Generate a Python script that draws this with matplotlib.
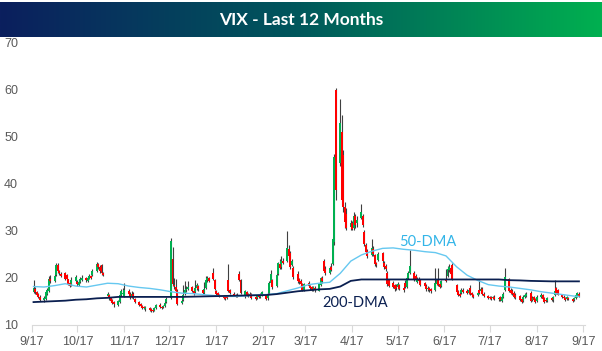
import matplotlib
matplotlib.use('Agg')
import numpy as np
import pandas as pd
import matplotlib.pyplot as plt
from matplotlib.colors import LinearSegmentedColormap

# daily VIX candles, month blocks from the 17th to the 16th
opens = [
    17.0, 17.6, 16.9, 16.6, 15.9, 15.3, 15.5, 16.6, 17.2, 19.6, 19.3, 20.5, 22.6, 21.3, 20.8, 20.9, 20.6, 19.6, 18.8, 18.4, 19.2,
    19.0, 18.5, 19.0, 19.5, 19.9, 19.3, 19.8, 20.3, 20.6, 21.3, 22.8, 22.3, 22.6, 20.9, 16.1, 16.4, 15.6, 15.2, 14.8, 14.2, 14.9, 16.3, 16.5,
    16.0, 17.2, 16.6, 15.8, 16.6, 15.4, 14.8, 14.3, 14.0, 13.7, 13.3, 13.6, 13.3, 13.2, 13.0, 13.6, 14.2, 13.8, 13.7, 14.0, 14.8,
    15.6, 24.0, 18.5, 18.0, 17.2, 14.6, 15.2, 16.5, 17.4, 17.6, 17.9, 17.2, 17.0, 17.7, 18.2, 17.4, 16.8, 17.8, 19.4, 20.0, 21.0, 19.5,
    17.2, 16.8, 16.3, 16.1, 15.8, 16.0, 19.4, 17.3, 16.6, 16.3, 16.0, 20.8, 19.4, 16.4, 17.0, 16.6, 16.2, 16.5, 15.8, 15.6, 16.2, 15.8, 16.3,
    16.4, 15.6, 16.8, 18.8, 19.5, 18.2, 20.8, 22.8, 22.2, 23.6, 23.6, 26.0, 25.2, 22.6, 22.0, 20.8, 19.6, 19.2, 18.6, 17.4,
    18.8, 18.2, 17.9, 17.5, 17.8, 17.2, 18.4, 20.0, 23.6, 21.8, 21.0, 22.2, 22.8, 27.5, 59.8, 44.4, 51.0, 46.0, 35.0, 33.4, 30.8, 31.5,
    30.6, 33.0, 31.5, 32.6, 33.0, 29.6, 27.0, 25.6, 24.8, 26.0, 24.8, 23.0, 23.8, 25.2, 23.2, 22.4, 21.0, 19.4, 18.8, 18.4, 18.3, 17.9,
    18.4, 17.8, 18.8, 18.0, 20.0, 21.0, 21.0, 20.4, 19.1, 19.8, 19.6, 18.8, 18.3, 17.6, 17.8, 17.6, 17.3, 18.6, 19.6, 18.6, 18.2,
    19.8, 20.4, 21.6, 22.0, 22.6, 18.4, 17.2, 16.6, 16.8, 17.4, 17.2, 16.8, 17.8, 16.8, 16.4, 16.2, 17.4, 17.2, 17.6, 16.6, 16.0, 15.8,
    15.8, 15.6, 15.9, 15.4, 15.9, 15.1, 15.9, 17.4, 19.6, 17.4, 17.2, 16.8, 16.4, 16.0, 15.4, 15.1, 15.9, 16.1, 16.8, 15.2, 15.8, 15.4, 15.0,
    15.8, 16.2, 15.6, 15.2, 15.0, 15.6, 15.2, 16.2, 17.8, 17.3, 16.4, 15.9, 15.6, 15.4, 15.7, 15.4, 15.2, 15.6, 16.0, 16.6,
]
highs = [
    19.4, 18.0, 17.2, 16.8, 16.2, 16.0, 17.2, 17.7, 20.4, 20.5, 20.8, 23.2, 23.0, 21.6, 21.1, 21.2, 20.8, 19.8, 19.1, 20.1, 20.6,
    19.4, 19.6, 20.2, 20.6, 20.2, 20.3, 20.8, 20.6, 21.8, 23.4, 23.1, 22.6, 22.9, 21.2, 17.0, 16.6, 15.9, 15.5, 15.1, 15.3, 16.9, 17.6, 17.8,
    18.8, 17.6, 17.0, 17.2, 16.9, 15.6, 15.0, 14.5, 14.2, 14.0, 13.9, 13.8, 13.5, 13.4, 13.8, 14.4, 14.5, 14.0, 14.1, 15.0, 15.8,
    28.4, 26.5, 20.0, 19.8, 17.5, 15.4, 18.5, 19.3, 18.2, 19.3, 18.3, 17.5, 19.5, 18.8, 18.5, 17.6, 19.0, 20.3, 20.3, 20.2, 22.0, 19.8,
    17.4, 17.0, 16.5, 16.3, 16.0, 16.2, 22.8, 17.6, 16.9, 16.6, 16.7, 21.3, 19.6, 17.3, 17.2, 16.8, 16.9, 16.7, 16.0, 16.4, 16.5, 16.7, 17.2,
    16.6, 16.9, 19.2, 21.6, 19.8, 21.0, 23.4, 24.0, 24.5, 24.2, 29.8, 27.0, 25.6, 24.0, 22.4, 21.4, 20.0, 19.6, 18.9, 18.9,
    19.2, 18.5, 18.2, 18.3, 18.2, 18.9, 20.2, 20.4, 24.0, 22.4, 22.4, 23.0, 28.6, 46.2, 60.3, 57.8, 54.5, 47.0, 36.0, 34.8, 32.2, 32.0,
    34.0, 33.6, 33.0, 35.7, 33.4, 30.0, 27.4, 26.0, 28.2, 26.6, 25.0, 23.4, 25.4, 25.5, 23.5, 22.8, 21.3, 19.8, 19.2, 18.6, 18.6, 19.0,
    18.7, 18.2, 19.5, 20.3, 21.3, 25.9, 21.4, 20.8, 20.2, 20.2, 19.8, 19.1, 18.6, 18.3, 18.1, 17.8, 22.0, 19.8, 22.0, 19.0, 19.5,
    21.8, 22.4, 22.8, 22.4, 23.0, 18.6, 17.4, 16.9, 17.8, 17.7, 17.6, 17.8, 18.4, 17.0, 16.6, 17.2, 19.5, 18.0, 17.9, 16.9, 16.2, 16.0,
    16.1, 16.1, 16.2, 15.9, 16.1, 16.3, 17.0, 22.0, 19.9, 17.8, 17.6, 17.1, 16.7, 16.3, 15.6, 16.2, 16.8, 16.9, 17.2, 16.0, 16.1, 15.7, 16.2,
    16.8, 16.5, 15.9, 15.5, 15.9, 15.8, 16.0, 19.5, 18.0, 17.6, 16.6, 16.2, 15.8, 16.0, 15.9, 15.6, 15.8, 16.5, 17.0, 16.9,
]
lows = [
    16.8, 16.6, 16.0, 15.6, 15.0, 14.9, 15.3, 16.4, 17.0, 18.9, 19.0, 20.3, 21.0, 20.6, 20.2, 19.5, 19.4, 18.4, 18.1, 18.2, 19.0,
    18.3, 18.2, 18.8, 19.2, 19.1, 19.0, 19.6, 19.7, 20.4, 21.1, 21.9, 21.0, 20.6, 20.3, 15.8, 15.3, 14.9, 14.3, 13.8, 14.0, 14.7, 16.0, 16.2,
    15.8, 16.2, 15.5, 15.6, 15.4, 14.5, 14.0, 13.8, 13.4, 13.3, 13.0, 13.0, 12.8, 12.6, 12.9, 13.4, 13.5, 13.3, 13.5, 13.8, 14.6,
    15.4, 18.2, 17.6, 16.8, 14.2, 14.3, 15.0, 16.3, 17.0, 17.3, 16.9, 16.3, 16.8, 17.3, 17.2, 16.5, 16.6, 17.6, 19.0, 19.0, 19.5, 17.3,
    16.2, 16.1, 15.8, 15.5, 15.3, 15.4, 16.9, 16.5, 16.0, 15.8, 15.8, 19.2, 16.5, 15.6, 16.0, 15.8, 15.9, 15.5, 15.2, 15.4, 15.6, 15.6, 16.1,
    15.2, 15.2, 16.6, 18.6, 17.6, 18.0, 20.5, 21.8, 21.9, 22.8, 23.4, 24.2, 21.9, 22.4, 19.8, 18.9, 18.7, 18.3, 17.2, 17.1,
    17.9, 17.4, 17.1, 17.2, 17.0, 17.1, 18.2, 18.9, 21.1, 20.6, 20.8, 21.3, 22.6, 27.0, 36.5, 43.6, 35.5, 34.0, 30.5, 30.0, 30.2, 30.0,
    30.2, 30.6, 30.8, 32.4, 30.8, 26.8, 25.0, 24.2, 24.5, 24.6, 22.4, 22.2, 23.5, 23.2, 21.8, 21.5, 18.2, 17.9, 17.8, 17.2, 17.4, 17.6,
    17.3, 17.0, 17.8, 17.8, 19.8, 20.8, 19.3, 19.2, 18.9, 19.0, 18.2, 17.9, 17.2, 17.2, 17.0, 16.8, 17.1, 18.4, 18.2, 17.8, 17.9,
    19.0, 20.2, 21.2, 20.5, 19.4, 16.8, 16.1, 15.8, 16.6, 16.8, 16.5, 16.6, 16.3, 15.9, 15.7, 16.0, 16.5, 17.0, 16.4, 15.8, 15.5, 15.4,
    15.3, 15.4, 15.2, 15.1, 15.0, 14.8, 15.6, 17.2, 17.0, 16.6, 16.4, 15.6, 15.5, 15.0, 14.7, 14.9, 15.7, 15.9, 14.8, 15.0, 15.1, 14.7, 14.8,
    15.6, 15.3, 14.7, 14.8, 14.8, 15.0, 14.9, 16.0, 16.6, 16.2, 15.6, 15.4, 15.1, 15.2, 15.2, 14.9, 15.0, 15.4, 15.8, 15.9,
]
closes = [
    17.8, 16.9, 16.3, 15.8, 15.3, 15.6, 16.9, 17.3, 19.6, 19.2, 20.4, 22.6, 21.4, 20.9, 20.4, 19.8, 19.6, 18.6, 18.3, 19.4, 20.2,
    18.6, 19.1, 19.6, 19.9, 19.4, 19.9, 20.4, 20.0, 21.4, 22.9, 22.2, 21.3, 20.9, 20.6, 16.6, 15.6, 15.1, 14.6, 14.3, 15.0, 16.3, 17.1, 16.8,
    17.3, 16.5, 15.8, 16.6, 15.6, 14.8, 14.2, 14.0, 13.6, 13.5, 13.7, 13.2, 13.0, 12.9, 13.6, 14.2, 13.8, 13.6, 13.9, 14.7, 15.5,
    27.8, 18.6, 18.2, 17.2, 14.4, 15.1, 16.2, 17.3, 17.6, 18.1, 17.2, 16.6, 17.7, 18.4, 17.6, 16.8, 17.6, 19.5, 19.9, 19.3, 19.8, 17.6,
    16.6, 16.3, 16.0, 15.7, 15.5, 15.6, 17.2, 16.8, 16.2, 16.0, 16.4, 19.5, 16.8, 17.1, 16.2, 16.0, 16.6, 15.7, 15.4, 16.0, 15.8, 16.4, 16.9,
    15.5, 16.6, 18.8, 20.8, 18.0, 20.6, 23.0, 22.0, 23.6, 23.2, 26.2, 24.6, 22.2, 23.6, 20.2, 19.2, 19.0, 18.6, 17.4, 18.7,
    18.2, 17.8, 17.4, 17.9, 17.3, 18.6, 19.9, 19.2, 21.4, 21.0, 22.0, 21.6, 28.2, 45.6, 38.6, 52.8, 36.5, 35.0, 31.8, 30.6, 31.6, 30.4,
    33.0, 31.2, 32.2, 34.0, 31.2, 27.2, 25.4, 24.6, 26.2, 25.0, 22.8, 22.6, 25.0, 23.6, 22.2, 21.8, 18.6, 18.2, 18.0, 17.6, 17.8, 18.6,
    17.6, 17.4, 18.0, 20.0, 21.0, 22.4, 19.6, 19.4, 19.8, 19.2, 18.4, 18.2, 17.5, 17.8, 17.3, 17.1, 18.8, 19.4, 18.4, 18.0, 19.2,
    19.2, 21.8, 22.2, 20.8, 19.6, 17.0, 16.4, 16.0, 17.4, 17.0, 16.8, 17.4, 16.6, 16.2, 15.9, 16.8, 16.8, 17.6, 16.6, 16.0, 15.7, 15.6,
    15.5, 15.8, 15.4, 15.6, 15.2, 15.9, 16.6, 20.2, 17.2, 16.8, 16.6, 15.8, 15.7, 15.2, 14.9, 15.8, 16.4, 16.6, 15.0, 15.7, 15.3, 14.9, 15.9,
    16.4, 15.5, 14.9, 15.0, 15.6, 15.2, 15.8, 17.2, 16.8, 16.4, 15.8, 15.6, 15.3, 15.8, 15.4, 15.1, 15.6, 16.2, 16.7, 16.1,
]

# moving averages, one reading every 5 trading days (last one on the final day)
dma50 = [18.1, 18.0, 18.3, 18.7, 18.2, 18.0, 18.4, 18.8, 18.7, 18.2, 17.9, 17.7, 17.4, 17.0,
         16.7, 16.6, 16.4, 16.2, 16.0, 16.0, 16.1, 16.3, 16.4, 16.6, 17.2, 17.8, 18.5, 18.8,
         19.0, 20.9, 23.5, 24.8, 25.6, 26.2, 26.3, 26.0, 25.8, 25.5, 25.3, 24.6, 22.3, 20.5,
         19.4, 18.5, 18.2, 18.0, 17.7, 17.4, 17.0, 16.7, 16.4, 16.1, 16.0]
dma200 = [14.8, 14.9, 15.0, 15.1, 15.3, 15.4, 15.6, 15.7, 15.9, 15.9, 15.9, 15.9, 15.9, 15.9,
          15.9, 15.95, 16.0, 16.05, 16.1, 16.15, 16.2, 16.25, 16.3, 16.5, 16.8, 17.1, 17.3, 17.5,
          17.6, 18.1, 19.3, 19.6, 19.6, 19.6, 19.6, 19.6, 19.6, 19.6, 19.6, 19.6, 19.6, 19.6,
          19.6, 19.6, 19.6, 19.45, 19.4, 19.3, 19.25, 19.2, 19.2, 19.2, 19.2]

tick_dates = ['2017-09-17', '2017-10-17', '2017-11-17', '2017-12-17', '2018-01-17', '2018-02-17',
              '2018-03-17', '2018-04-17', '2018-05-17', '2018-06-17', '2018-07-17', '2018-08-17', '2018-09-17']
tick_labels = ['9/17', '10/17', '11/17', '12/17', '1/17', '2/17', '3/17', '4/17',
               '5/17', '6/17', '7/17', '8/17', '9/17']

dates = pd.bdate_range('2017-09-18', periods=len(closes))
o = np.array(opens); h = np.array(highs); l = np.array(lows); c = np.array(closes)
dma_idx = list(range(0, len(closes), 5)) + [len(closes) - 1]

fig = plt.figure(figsize=(6.02, 3.51), dpi=100)

# title bar with the blue->green gradient
tax = fig.add_axes([0, 1 - 37 / 351, 1, 35 / 351])
cmap = LinearSegmentedColormap.from_list('bar', ['#0b1f5e', '#00585c', '#00b050'])
tax.imshow(np.linspace(0, 1, 256)[None, :], aspect='auto', cmap=cmap, extent=[0, 1, 0, 1])
tax.set_axis_off()
tax.text(0.5, 0.48, 'VIX - Last 12 Months', color='white', fontsize=12.5, fontweight='bold',
         family='Lato', ha='center', va='center')

ax = fig.add_axes([32 / 602, 26.3 / 351, 553 / 602, 282.7 / 351])
up = c >= o
body_bottom = np.minimum(o, c)
body_height = np.maximum(np.abs(c - o), 0.15)
ax.vlines(dates, l, h, color='#404040', lw=0.8, zorder=2)
ax.bar(dates[up], body_height[up], bottom=body_bottom[up], width=1.3, color='#00b050', zorder=3)
ax.bar(dates[~up], body_height[~up], bottom=body_bottom[~up], width=1.3, color='#ff0000', zorder=3)

ax.plot(dates[dma_idx], dma50, color='#66c8f0', lw=1.0, zorder=4)
ax.plot(dates[dma_idx], dma200, color='#0a1f50', lw=1.3, zorder=4)

ax.text(pd.Timestamp('2018-05-18'), 27.6, '50-DMA', color='#33b5e8', fontsize=10.5,
        family='Lato', ha='left', va='center')
ax.text(pd.Timestamp('2018-03-28'), 14.6, '200-DMA', color='#0a1f50', fontsize=10.5,
        family='Lato', ha='left', va='center')

ax.set_ylim(10, 70)
ax.set_yticks([10, 20, 30, 40, 50, 60, 70])
ax.set_xlim(pd.Timestamp(tick_dates[0]), pd.Timestamp(tick_dates[-1]) + pd.Timedelta(days=1))
ax.set_xticks(pd.to_datetime(tick_dates))
ax.set_xticklabels(tick_labels)
for s in ['top', 'right', 'left']:
    ax.spines[s].set_visible(False)
ax.spines['bottom'].set_color('#d9d9d9')
ax.tick_params(axis='y', length=0, pad=10, labelsize=9, labelcolor='#595959')
ax.tick_params(axis='x', length=5, color='#d9d9d9', pad=3, labelsize=9, labelcolor='#595959')
for lab in ax.get_xticklabels() + ax.get_yticklabels():
    lab.set_family('Liberation Sans')

fig.savefig('out.png', dpi=100)
